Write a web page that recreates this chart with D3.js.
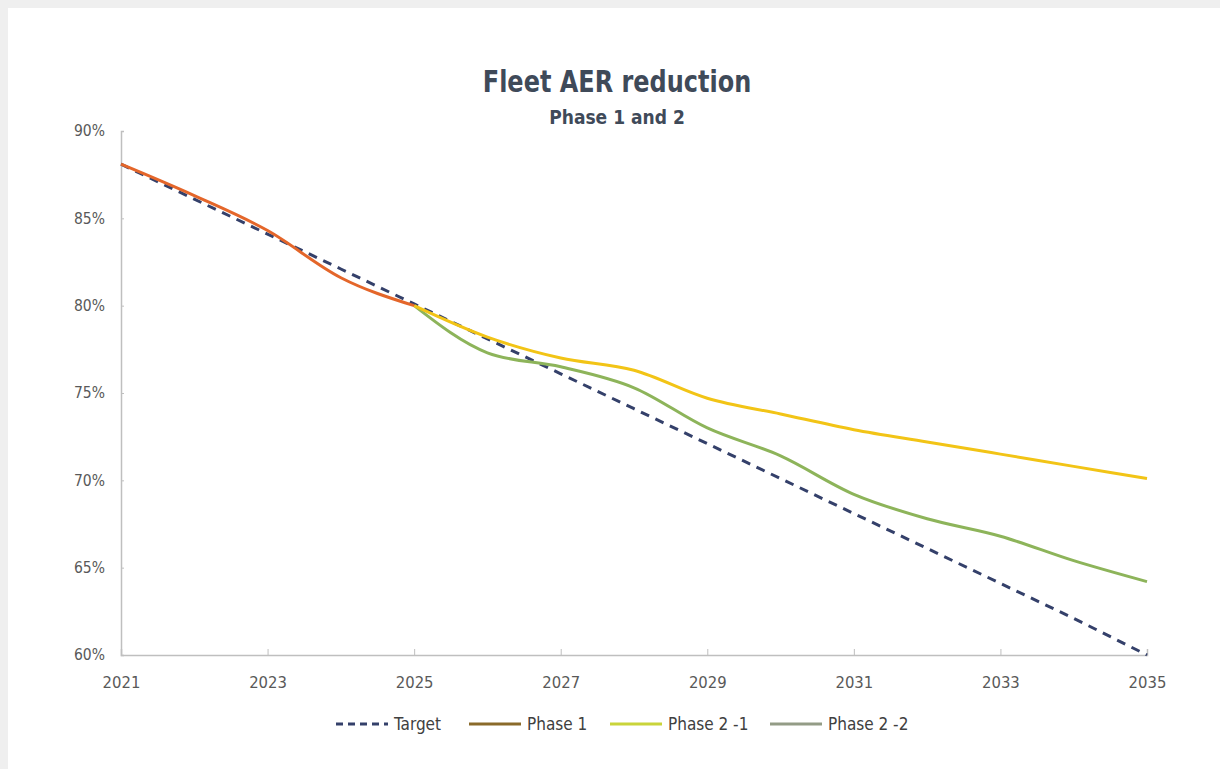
<!DOCTYPE html>
<html><head><meta charset="utf-8">
<script src="https://cdn.jsdelivr.net/npm/d3@7"></script>
<style>
html,body{margin:0;padding:0;background:#efefef;}
svg{display:block;}
text{font-family:"Liberation Sans Narrow","DejaVu Sans Condensed","Open Sans",sans-serif;}
</style></head><body>
<svg id="chart" width="1220" height="769"></svg>
<script>
const years = [2021,2022,2023,2024,2025,2026,2027,2028,2029,2030,2031,2032,2033,2034,2035];
const xTickLabels = ["2021","2023","2025","2027","2029","2031","2033","2035"];
const yTickValues = [60,65,70,75,80,85,90];
const targetValues = [88.1,86.1,84.1,82.1,80.1,78.1,76.1,74.1,72.1,70.1,68.1,66.1,64.1,62.1,60.0];
const phase1Years = [2021,2022,2023,2024,2025];
const phase1Values = [88.1,86.3,84.3,81.6,80.0];
const phase2Years = [2025,2026,2027,2028,2029,2030,2031,2032,2033,2034,2035];
const phase21Values = [80.0,78.2,77.0,76.3,74.7,73.8,72.9,72.2,71.5,70.8,70.1];
const phase22Values = [80.0,77.3,76.5,75.3,73.0,71.4,69.2,67.8,66.8,65.4,64.2];
const legendNames = ["Target","Phase 1","Phase 2 -1","Phase 2 -2"];

const svg = d3.select("#chart");
svg.append("rect").attr("x",8).attr("y",8).attr("width",1212).attr("height",761).attr("fill","#ffffff");

const x = d3.scaleLinear().domain([2021,2035]).range([121,1147]);
const y = d3.scaleLinear().domain([60,90]).range([655,131]);

// title
svg.append("text").attr("transform","translate(617,92) scale(0.86,1)").attr("text-anchor","middle")
  .attr("font-size",31).attr("font-weight","bold").attr("fill","#3f4a59").text("Fleet AER reduction");
svg.append("text").attr("x",617).attr("y",124).attr("text-anchor","middle")
  .attr("font-size",19).attr("font-weight","bold").attr("fill","#3f4a59").text("Phase 1 and  2");

// axes
const yAxis = d3.axisLeft(y).tickValues(yTickValues).tickSize(-3).tickPadding(16).tickFormat(d=>d+"%");
const gy = svg.append("g").attr("transform","translate(121,0)").call(yAxis);
const xAxis = d3.axisBottom(x).tickValues(xTickLabels.map(Number)).tickSize(-6).tickPadding(21).tickFormat(d=>String(d));
const gx = svg.append("g").attr("transform","translate(0,655)").call(xAxis);
[gx,gy].forEach(g=>{
  g.select(".domain").attr("stroke","#bfbfbf").attr("stroke-width",1.5);
  g.selectAll(".tick line").attr("stroke","#bfbfbf").attr("stroke-width",1);
  g.selectAll(".tick text").attr("fill","#595959").attr("font-size",16.5)
    .style("font-family",'"Liberation Sans Narrow","DejaVu Sans Condensed","Open Sans",sans-serif');
});
gy.selectAll(".tick text").attr("font-size",15.5);

const line = d3.line().x(d=>x(d[0])).y(d=>y(d[1])).curve(d3.curveMonotoneX);

svg.append("path").datum(years.map((d,i)=>[d,targetValues[i]])).attr("d",d3.line().x(d=>x(d[0])).y(d=>y(d[1])))
  .attr("fill","none").attr("stroke","#34406a").attr("stroke-width",3).attr("stroke-dasharray","9,7");
svg.append("path").datum(phase2Years.map((d,i)=>[d,phase22Values[i]])).attr("d",line)
  .attr("fill","none").attr("stroke","#8db45a").attr("stroke-width",3);
svg.append("path").datum(phase2Years.map((d,i)=>[d,phase21Values[i]])).attr("d",line)
  .attr("fill","none").attr("stroke","#f2c416").attr("stroke-width",3);
svg.append("path").datum(phase1Years.map((d,i)=>[d,phase1Values[i]])).attr("d",line)
  .attr("fill","none").attr("stroke","#e4662a").attr("stroke-width",3);

// legend
const legendColors = ["#34406a","#8a6a2a","#c9d43a","#939c86"];
const legendX = [336,469,610,770];
const lg = svg.append("g");
legendNames.forEach((name,i)=>{
  const g = lg.append("g").attr("transform",`translate(${legendX[i]},724)`);
  g.append("line").attr("x1",0).attr("x2",52).attr("y1",0).attr("y2",0)
    .attr("stroke",legendColors[i]).attr("stroke-width",3)
    .attr("stroke-dasharray", i===0 ? "7,5" : null);
  g.append("text").attr("x",58).attr("y",6).attr("font-size",17).attr("fill","#404040").text(name);
});
</script>
</body></html>
